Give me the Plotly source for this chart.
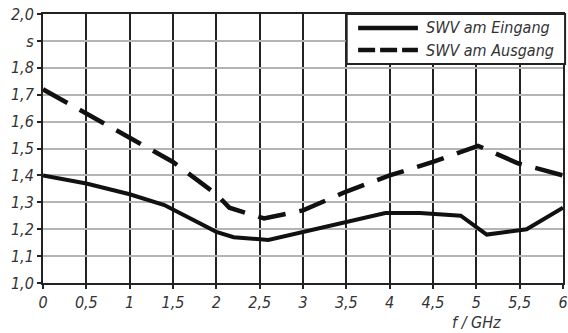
import plotly.graph_objects as go

# Data
x_ein = [0, 0.5, 1.0, 1.4, 2.0, 2.2, 2.6, 3.0, 3.5, 3.95, 4.35, 4.82, 5.12, 5.58, 6.0]
y_ein = [1.40, 1.37, 1.33, 1.29, 1.19, 1.17, 1.16, 1.19, 1.23, 1.26, 1.26, 1.25, 1.18, 1.20, 1.28]
x_aus = [0, 0.5, 1.0, 1.5, 2.0, 2.15, 2.55, 3.0, 3.5, 4.0, 4.5, 5.02, 5.48, 6.0]
y_aus = [1.72, 1.63, 1.54, 1.45, 1.33, 1.28, 1.24, 1.27, 1.34, 1.40, 1.45, 1.51, 1.445, 1.40]
series_names = ["SWV am Eingang", "SWV am Ausgang"]

x_ticks = [0, 0.5, 1, 1.5, 2, 2.5, 3, 3.5, 4, 4.5, 5, 5.5, 6]
x_ticklabels = ["0", "0,5", "1", "1,5", "2", "2,5", "3", "3,5", "4", "4,5", "5", "5,5", "6"]
y_ticks = [1.0, 1.1, 1.2, 1.3, 1.4, 1.5, 1.6, 1.7, 1.8, 1.9, 2.0]
y_ticklabels = ["1,0", "1,1", "1,2", "1,3", "1,4", "1,5", "1,6", "1,7", "1,8", "s", "2,0"]

FONT = "DejaVu Sans Condensed, Liberation Sans Narrow, Liberation Sans, Arial"
DARK = "#222222"
TXT = "#333333"
LINE = "#111111"

fig = go.Figure()
fig.add_trace(go.Scatter(x=x_ein, y=y_ein, mode="lines", name=series_names[0],
                         line=dict(color=LINE, width=4), showlegend=False))
fig.add_trace(go.Scatter(x=x_aus, y=y_aus, mode="lines", name=series_names[1],
                         line=dict(color=LINE, width=4.5, dash="28px,14px"), showlegend=False))

# darker grid line at 1.9
fig.add_shape(type="line", xref="paper", x0=0, x1=1, yref="y", y0=1.9, y1=1.9,
              line=dict(color="#333333", width=1.2), layer="below")

# legend box (drawn)
fig.add_shape(type="rect", xref="paper", yref="paper", x0=0.584, x1=1.004, y0=0.814, y1=1.0,
              fillcolor="white", line=dict(color=DARK, width=2), layer="above")
leg_y = [0.948, 0.866]
leg_dash = ["solid", "17px,5px"]
for name, yy, dsh in zip(series_names, leg_y, leg_dash):
    fig.add_shape(type="line", xref="paper", yref="paper", x0=0.606, x1=0.721, y0=yy, y1=yy,
                  line=dict(color=LINE, width=4.5, dash=dsh), layer="above")
    fig.add_annotation(text="<i>%s</i>" % name, xref="paper", yref="paper", x=0.733, y=yy,
                       xanchor="left", yanchor="middle", showarrow=False,
                       font=dict(family=FONT, size=16, color=TXT))

fig.update_layout(
    width=568, height=333,
    margin=dict(l=43, r=5, t=14, b=50, autoexpand=False),
    plot_bgcolor="white", paper_bgcolor="white",
    showlegend=False,
    font=dict(family=FONT, size=15, color=TXT),
)
fig.update_xaxes(range=[0, 6], tickvals=x_ticks,
                 ticktext=["<i>%s</i>" % t for t in x_ticklabels],
                 showgrid=True, gridcolor=DARK, gridwidth=2,
                 showline=True, linecolor=DARK, linewidth=2, mirror=True,
                 ticks="outside", ticklen=4, tickwidth=2, tickcolor=DARK,
                 zeroline=False, automargin=False, ticklabeloverflow="allow",
                 tickfont=dict(family=FONT, size=16, color=TXT))
fig.update_yaxes(range=[1.0, 2.0], tickvals=y_ticks,
                 ticktext=["<i>%s</i>" % t for t in y_ticklabels],
                 showgrid=True, gridcolor="#b4b4b4", gridwidth=1.5,
                 showline=True, linecolor=DARK, linewidth=2, mirror=True,
                 ticks="outside", ticklen=4, tickwidth=2, tickcolor=DARK,
                 zeroline=False, automargin=False, ticklabeloverflow="allow",
                 tickfont=dict(family=FONT, size=16, color=TXT))

fig.add_annotation(text="<i>f / GHz</i>", xref="paper", yref="paper", x=0.833, y=-0.147,
                   xanchor="center", yanchor="middle", showarrow=False,
                   font=dict(family=FONT, size=16, color=TXT))

fig.write_html("out.html", config={"displayModeBar": False},
               post_script="document.body.style.margin='0px';document.body.style.overflow='hidden';")
